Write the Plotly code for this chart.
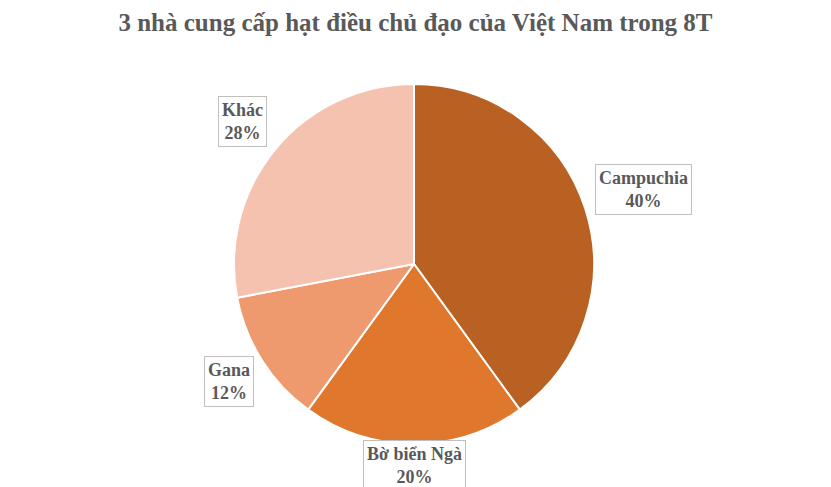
import math
import plotly.graph_objects as go

# data
suppliers = ["Campuchia", "Bờ biển Ngà", "Gana", "Khác"]
shares = [40, 20, 12, 28]
slice_colors = ["#B86122", "#DF772D", "#EF9A6E", "#F4C2AF"]

title_text = "3 nhà cung cấp hạt điều chủ đạo của Việt Nam trong 8T"

W, H = 831, 487
OFF = 8  # page body margin in the browser
# pie placement (pixels in the screenshot)
cx, cy, r = 414 - OFF, 264 - OFF, 180
label_dist = [1.34, 1.12, 1.22, 1.24]

fig = go.Figure(
    go.Pie(
        labels=suppliers,
        values=shares,
        sort=False,
        direction="clockwise",
        rotation=0,
        marker=dict(colors=slice_colors, line=dict(color="white", width=2)),
        textinfo="none",
        hoverinfo="label+percent",
        domain=dict(x=[(cx - r) / W, (cx + r) / W], y=[1 - (cy + r) / H, 1 - (cy - r) / H]),
    )
)

# callout labels placed at each slice's mid angle
total = sum(shares)
start = 0.0
for name, val, k in zip(suppliers, shares, label_dist):
    mid = start + val / total * 360 / 2
    start += val / total * 360
    a = math.radians(mid)
    px = cx + k * r * math.sin(a)
    py = cy - k * r * math.cos(a)
    fig.add_annotation(
        x=px / W, y=1 - py / H, xref="paper", yref="paper",
        xanchor="center", yanchor="middle",
        text=f"<b>{name}</b><br><b>{round(val / total * 100)}%</b>",
        showarrow=False,
        font=dict(family="Liberation Serif", size=18, color="#595959"),
        bordercolor="#BFBFBF", borderwidth=1, borderpad=3,
        bgcolor="white",
    )

fig.update_layout(
    width=W, height=H,
    margin=dict(l=0, r=0, t=0, b=0),
    paper_bgcolor="white",
    showlegend=False,
    title=dict(
        text=f"<b>{title_text}</b>",
        x=(W / 2 - OFF) / W, xanchor="center", y=1 - (22 - OFF) / H, yanchor="middle",
        font=dict(family="Liberation Serif", size=25, color="#595959"),
    ),
)

fig.write_html("out.html")
